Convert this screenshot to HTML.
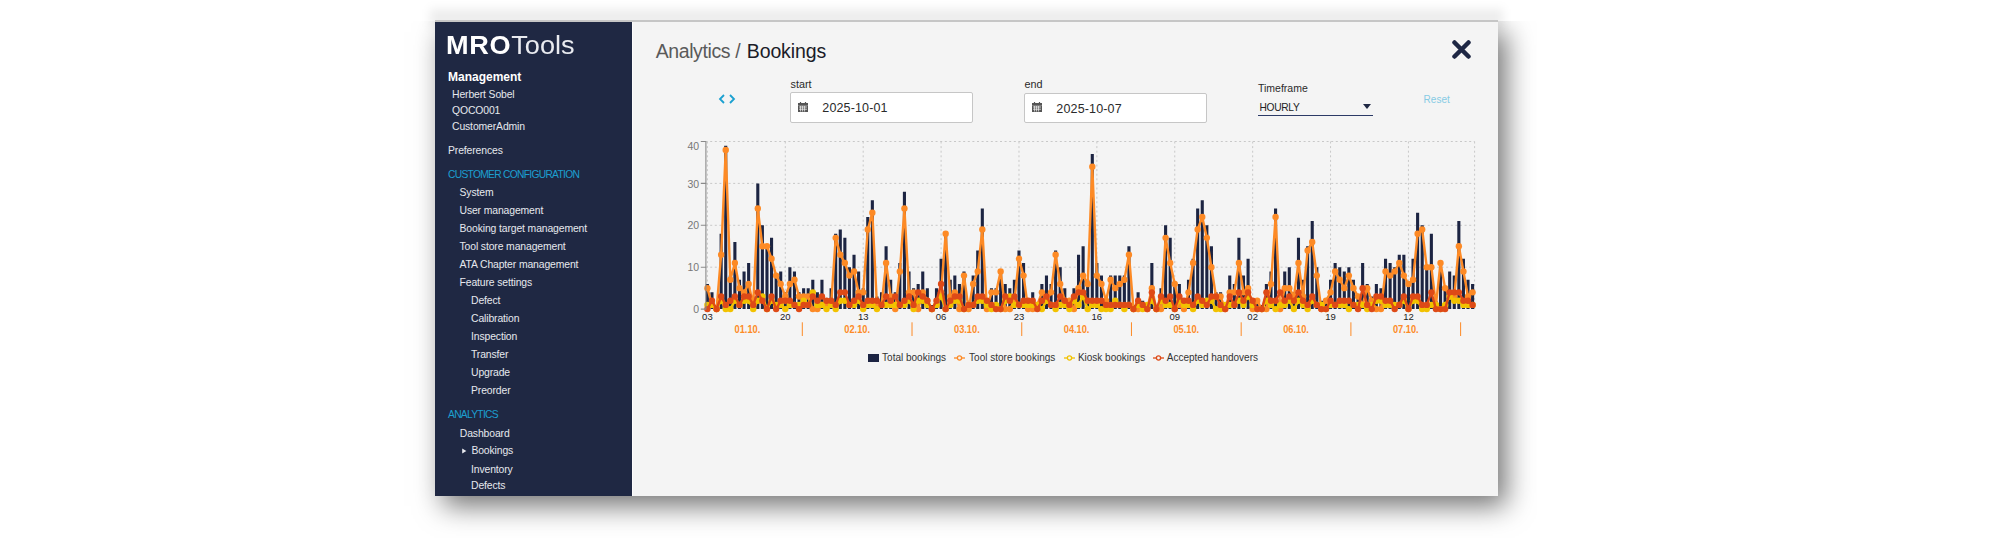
<!DOCTYPE html>
<html><head><meta charset="utf-8"><title>MROTools - Analytics / Bookings</title>
<style>
*{box-sizing:border-box;margin:0;padding:0}
html,body{width:2000px;height:538px;overflow:hidden;background:#fff;font-family:"Liberation Sans",sans-serif}
.topfade{position:absolute;left:430px;top:9px;width:1073px;height:18px;background:rgba(0,0,0,.072);filter:blur(5px)}
.shwrap{position:absolute;left:0;top:21px;width:1537px;height:517px;overflow:hidden}
.topline{position:absolute;left:435px;top:20.4px;width:1063px;height:1.2px;background:#c6c6c6}
.win{position:absolute;left:435px;top:1px;width:1063px;height:474px;background:#f4f4f4;box-shadow:8px 10px 26px rgba(0,0,0,.55)}
.side{position:absolute;left:0;top:0;width:197px;height:474px;background:#1f2843;color:#e6e8ee}
.side .t{position:absolute;white-space:nowrap;font-size:10.4px;line-height:14px;letter-spacing:-0.12px}
.logo{position:absolute;left:11.3px;top:11px;font-size:25px;line-height:25px;color:#fff;white-space:nowrap;transform:scaleX(1.085);transform-origin:0 0}
.logo b{font-weight:bold;letter-spacing:0.6px}
.logo span{font-weight:normal;letter-spacing:0px;color:#e9ebf0}
.side .h{font-weight:bold;font-size:12px;color:#fff;letter-spacing:0}
.side .c{color:#1c9fd0;font-size:10.3px;letter-spacing:-0.73px}
.main{position:absolute;left:198px;top:0;width:865px;height:474px;background:#f4f4f4}
.title{position:absolute;left:22.7px;top:16.6px;font-size:19.5px;line-height:24px;color:#5a5a5a;white-space:nowrap;letter-spacing:-0.4px}
.title b{font-weight:normal;color:#1b1c28;letter-spacing:-0.12px;margin-left:1.6px}
.close{position:absolute;left:819px;top:18px;width:19px;height:19px}
.lab{position:absolute;font-size:10.8px;line-height:14px;color:#2a2a2a;white-space:nowrap}
.inp{position:absolute;height:30.6px;background:#fff;border:1px solid #c6c6c6;border-radius:2px}
.inp .v{position:absolute;left:31.1px;top:8.2px;font-size:12.5px;line-height:15px;color:#2a2a2a;letter-spacing:0.15px}
.inp svg{position:absolute;left:6.5px;top:8.9px}
.sel{position:absolute;left:625px;top:76px;width:115px;height:18px;border-bottom:1.5px solid #2c3a66}
.sel .v{position:absolute;left:1.5px;top:3.7px;font-size:10.2px;line-height:12px;color:#222;letter-spacing:-0.3px}
.sel .car{position:absolute;left:105.2px;top:5.75px;width:0;height:0;border-left:4px solid transparent;border-right:4px solid transparent;border-top:5px solid #1f2843}
.reset{position:absolute;left:790.6px;top:71.4px;font-size:10px;line-height:14px;color:#86cbe4}
.arrows{position:absolute;left:85.4px;top:72px}
.chart{position:absolute;left:0;top:0}
.yl{font-size:10.5px;fill:#777;font-family:"Liberation Sans",sans-serif}
.xl{font-size:9.5px;fill:#222;font-family:"Liberation Sans",sans-serif}
.dl{font-size:10.3px;fill:#fd8a25;font-weight:bold;font-family:"Liberation Sans",sans-serif}
.legend{position:absolute;left:0;top:0;font-size:10px;line-height:12px;color:#333;white-space:nowrap}
.legend .it{position:absolute;white-space:nowrap}
</style></head>
<body>
<div class="topfade"></div>
<div class="shwrap"><div class="win">
 <div class="side">
  <div class="logo"><b>MRO</b><span>Tools</span></div>
  <div class="t h" style="left:13px;top:47.8px">Management</div>
  <div class="t" style="left:17px;top:65.9px">Herbert Sobel</div>
  <div class="t" style="left:17px;top:81.9px">QOCO001</div>
  <div class="t" style="left:17px;top:97.7px">CustomerAdmin</div>
  <div class="t" style="left:13px;top:122.3px">Preferences</div>
  <div class="t c" style="left:13px;top:146.0px">CUSTOMER CONFIGURATION</div>
  <div class="t" style="left:24.5px;top:163.8px">System</div>
  <div class="t" style="left:24.5px;top:181.8px">User management</div>
  <div class="t" style="left:24.5px;top:199.8px">Booking target management</div>
  <div class="t" style="left:24.5px;top:217.8px">Tool store management</div>
  <div class="t" style="left:24.5px;top:235.8px">ATA Chapter management</div>
  <div class="t" style="left:24.5px;top:253.8px">Feature settings</div>
  <div class="t" style="left:36px;top:272.0px">Defect</div>
  <div class="t" style="left:36px;top:290.2px">Calibration</div>
  <div class="t" style="left:36px;top:308.2px">Inspection</div>
  <div class="t" style="left:36px;top:326.0px">Transfer</div>
  <div class="t" style="left:36px;top:344.0px">Upgrade</div>
  <div class="t" style="left:36px;top:362.0px">Preorder</div>
  <div class="t c" style="left:13px;top:386.1px">ANALYTICS</div>
  <div class="t" style="left:24.8px;top:404.7px">Dashboard</div>
  <div class="t" style="left:36.4px;top:422.1px">Bookings</div>
  <svg class="tri" style="position:absolute;left:27.2px;top:426.3px" width="5" height="6" viewBox="0 0 5 6"><path d="M0.2 0.4L4.4 3L0.2 5.6z" fill="#e8e9ee"/></svg>
  <div class="t" style="left:36px;top:440.5px">Inventory</div>
  <div class="t" style="left:36px;top:456.8px">Defects</div>
 </div>
 <div style="position:absolute;left:197px;top:0;width:1px;height:474px;background:#fcfcfc"></div>
 <div class="main">
  <div class="title">Analytics / <b>Bookings</b></div>
  <svg class="close" viewBox="0 0 19 19"><path d="M2.5 2.5 L16.5 16.5 M16.5 2.5 L2.5 16.5" stroke="#1e2744" stroke-width="4.5" stroke-linecap="round"/></svg>
  <svg class="arrows" width="18" height="10" viewBox="0 0 18 10"><path d="M6 1 L2 5 L6 9 M12 1 L16 5 L12 9" stroke="#1aa0d0" stroke-width="1.8" fill="none"/></svg>
  <div class="lab" style="left:157.6px;top:55.2px">start</div>
  <div class="inp" style="left:157.2px;top:70px;width:183px"><svg width="10" height="10" viewBox="0 0 10 10"><path d="M2.5 0v2M7.5 0v2" stroke="#555" stroke-width="1.2"/><rect x="0" y="1" width="10" height="2.6" fill="#555"/><rect x="0" y="3.6" width="10" height="6.4" fill="#555"/><path d="M1 5h8M1 7.2h8M2.6 4v5.5M4.6 4v5.5M6.6 4v5.5" stroke="#fff" stroke-width="0.7"/></svg><span class="v">2025-10-01</span></div>
  <div class="lab" style="left:391.4px;top:55.2px">end</div>
  <div class="inp" style="left:391.25px;top:70.5px;width:182.75px"><svg width="10" height="10" viewBox="0 0 10 10"><path d="M2.5 0v2M7.5 0v2" stroke="#555" stroke-width="1.2"/><rect x="0" y="1" width="10" height="2.6" fill="#555"/><rect x="0" y="3.6" width="10" height="6.4" fill="#555"/><path d="M1 5h8M1 7.2h8M2.6 4v5.5M4.6 4v5.5M6.6 4v5.5" stroke="#fff" stroke-width="0.7"/></svg><span class="v">2025-10-07</span></div>
  <div class="lab" style="left:625px;top:59.1px;font-size:10.5px">Timeframe</div>
  <div class="sel"><span class="v">HOURLY</span><span class="car"></span></div>
  <div class="reset">Reset</div>
 </div>
</div></div>
<div class="topline"></div>
<svg class="chart" width="2000" height="538" viewBox="0 0 2000 538">
<path d="M705.6 267.2 H1474.6 M705.6 225.3 H1474.6 M705.6 183.4 H1474.6 M705.6 141.5 H1474.6 M707.4 141.5 V309.1 M785.29 141.5 V309.1 M863.19 141.5 V309.1 M941.08 141.5 V309.1 M1018.98 141.5 V309.1 M1096.87 141.5 V309.1 M1174.76 141.5 V309.1 M1252.66 141.5 V309.1 M1330.55 141.5 V309.1 M1408.45 141.5 V309.1 M1474.6 141.5 V309.1" stroke="#c8c8c8" stroke-width="1" stroke-dasharray="2 2.6" fill="none"/>
<path d="M705.85 283.96h3.1V309.1h-3.1zM710.43 292.34h3.1V309.1h-3.1zM715.01 304.91h3.1V309.1h-3.1zM719.6 233.68h3.1V309.1h-3.1zM724.18 145.69h3.1V309.1h-3.1zM728.76 275.58h3.1V309.1h-3.1zM733.34 242.06h3.1V309.1h-3.1zM737.92 279.77h3.1V309.1h-3.1zM742.51 271.39h3.1V309.1h-3.1zM747.09 263.01h3.1V309.1h-3.1zM751.67 296.53h3.1V309.1h-3.1zM756.25 183.4h3.1V309.1h-3.1zM760.83 225.3h3.1V309.1h-3.1zM765.42 246.25h3.1V309.1h-3.1zM770 237.87h3.1V309.1h-3.1zM774.58 275.58h3.1V309.1h-3.1zM779.16 271.39h3.1V309.1h-3.1zM783.74 292.34h3.1V309.1h-3.1zM788.33 267.2h3.1V309.1h-3.1zM792.91 271.39h3.1V309.1h-3.1zM797.49 292.34h3.1V309.1h-3.1zM802.07 288.15h3.1V309.1h-3.1zM806.65 288.15h3.1V309.1h-3.1zM811.24 279.77h3.1V309.1h-3.1zM815.82 292.34h3.1V309.1h-3.1zM820.4 279.77h3.1V309.1h-3.1zM824.98 300.72h3.1V309.1h-3.1zM829.56 288.15h3.1V309.1h-3.1zM834.15 233.68h3.1V309.1h-3.1zM838.73 229.49h3.1V309.1h-3.1zM843.31 237.87h3.1V309.1h-3.1zM847.89 267.2h3.1V309.1h-3.1zM852.47 254.63h3.1V309.1h-3.1zM857.06 271.39h3.1V309.1h-3.1zM861.64 288.15h3.1V309.1h-3.1zM866.22 216.92h3.1V309.1h-3.1zM870.8 200.16h3.1V309.1h-3.1zM875.38 296.53h3.1V309.1h-3.1zM879.97 292.34h3.1V309.1h-3.1zM884.55 246.25h3.1V309.1h-3.1zM889.13 279.77h3.1V309.1h-3.1zM893.71 292.34h3.1V309.1h-3.1zM898.29 263.01h3.1V309.1h-3.1zM902.88 191.78h3.1V309.1h-3.1zM907.46 271.39h3.1V309.1h-3.1zM912.04 288.15h3.1V309.1h-3.1zM916.62 283.96h3.1V309.1h-3.1zM921.2 271.39h3.1V309.1h-3.1zM925.79 288.15h3.1V309.1h-3.1zM930.37 304.91h3.1V309.1h-3.1zM934.95 288.15h3.1V309.1h-3.1zM939.53 258.82h3.1V309.1h-3.1zM944.11 233.68h3.1V309.1h-3.1zM948.7 279.77h3.1V309.1h-3.1zM953.28 275.58h3.1V309.1h-3.1zM957.86 283.96h3.1V309.1h-3.1zM962.44 271.39h3.1V309.1h-3.1zM967.02 300.72h3.1V309.1h-3.1zM971.61 275.58h3.1V309.1h-3.1zM976.19 250.44h3.1V309.1h-3.1zM980.77 208.54h3.1V309.1h-3.1zM985.35 300.72h3.1V309.1h-3.1zM989.93 288.15h3.1V309.1h-3.1zM994.52 288.15h3.1V309.1h-3.1zM999.1 271.39h3.1V309.1h-3.1zM1003.68 283.96h3.1V309.1h-3.1zM1008.26 288.15h3.1V309.1h-3.1zM1012.84 279.77h3.1V309.1h-3.1zM1017.43 250.44h3.1V309.1h-3.1zM1022.01 263.01h3.1V309.1h-3.1zM1026.59 300.72h3.1V309.1h-3.1zM1031.17 292.34h3.1V309.1h-3.1zM1035.75 304.91h3.1V309.1h-3.1zM1040.34 283.96h3.1V309.1h-3.1zM1044.92 275.58h3.1V309.1h-3.1zM1049.5 283.96h3.1V309.1h-3.1zM1054.08 250.44h3.1V309.1h-3.1zM1058.66 267.2h3.1V309.1h-3.1zM1063.25 288.15h3.1V309.1h-3.1zM1067.83 300.72h3.1V309.1h-3.1zM1072.41 288.15h3.1V309.1h-3.1zM1076.99 254.63h3.1V309.1h-3.1zM1081.57 246.25h3.1V309.1h-3.1zM1086.16 279.77h3.1V309.1h-3.1zM1090.74 154.07h3.1V309.1h-3.1zM1095.32 263.01h3.1V309.1h-3.1zM1099.9 275.58h3.1V309.1h-3.1zM1104.48 296.53h3.1V309.1h-3.1zM1109.07 275.58h3.1V309.1h-3.1zM1113.65 275.58h3.1V309.1h-3.1zM1118.23 275.58h3.1V309.1h-3.1zM1122.81 275.58h3.1V309.1h-3.1zM1127.39 246.25h3.1V309.1h-3.1zM1131.98 304.91h3.1V309.1h-3.1zM1136.56 292.34h3.1V309.1h-3.1zM1141.14 300.72h3.1V309.1h-3.1zM1145.72 304.91h3.1V309.1h-3.1zM1150.3 263.01h3.1V309.1h-3.1zM1154.89 304.91h3.1V309.1h-3.1zM1159.47 288.15h3.1V309.1h-3.1zM1164.05 225.3h3.1V309.1h-3.1zM1168.63 237.87h3.1V309.1h-3.1zM1173.21 283.96h3.1V309.1h-3.1zM1177.8 283.96h3.1V309.1h-3.1zM1182.38 300.72h3.1V309.1h-3.1zM1186.96 279.77h3.1V309.1h-3.1zM1191.54 258.82h3.1V309.1h-3.1zM1196.12 208.54h3.1V309.1h-3.1zM1200.71 200.16h3.1V309.1h-3.1zM1205.29 225.3h3.1V309.1h-3.1zM1209.87 246.25h3.1V309.1h-3.1zM1214.45 292.34h3.1V309.1h-3.1zM1219.03 292.34h3.1V309.1h-3.1zM1223.62 304.91h3.1V309.1h-3.1zM1228.2 275.58h3.1V309.1h-3.1zM1232.78 283.96h3.1V309.1h-3.1zM1237.36 237.87h3.1V309.1h-3.1zM1241.94 275.58h3.1V309.1h-3.1zM1246.53 258.82h3.1V309.1h-3.1zM1251.11 300.72h3.1V309.1h-3.1zM1255.69 300.72h3.1V309.1h-3.1zM1260.27 304.91h3.1V309.1h-3.1zM1264.85 283.96h3.1V309.1h-3.1zM1269.44 271.39h3.1V309.1h-3.1zM1274.02 208.54h3.1V309.1h-3.1zM1278.6 300.72h3.1V309.1h-3.1zM1283.18 271.39h3.1V309.1h-3.1zM1287.76 267.2h3.1V309.1h-3.1zM1292.35 292.34h3.1V309.1h-3.1zM1296.93 237.87h3.1V309.1h-3.1zM1301.51 279.77h3.1V309.1h-3.1zM1306.09 246.25h3.1V309.1h-3.1zM1310.67 221.11h3.1V309.1h-3.1zM1315.26 267.2h3.1V309.1h-3.1zM1319.84 300.72h3.1V309.1h-3.1zM1324.42 300.72h3.1V309.1h-3.1zM1329 279.77h3.1V309.1h-3.1zM1333.58 263.01h3.1V309.1h-3.1zM1338.17 267.2h3.1V309.1h-3.1zM1342.75 271.39h3.1V309.1h-3.1zM1347.33 267.2h3.1V309.1h-3.1zM1351.91 279.77h3.1V309.1h-3.1zM1356.49 296.53h3.1V309.1h-3.1zM1361.08 263.01h3.1V309.1h-3.1zM1365.66 283.96h3.1V309.1h-3.1zM1370.24 296.53h3.1V309.1h-3.1zM1374.82 283.96h3.1V309.1h-3.1zM1379.4 288.15h3.1V309.1h-3.1zM1383.99 258.82h3.1V309.1h-3.1zM1388.57 263.01h3.1V309.1h-3.1zM1393.15 267.2h3.1V309.1h-3.1zM1397.73 254.63h3.1V309.1h-3.1zM1402.31 254.63h3.1V309.1h-3.1zM1406.9 283.96h3.1V309.1h-3.1zM1411.48 258.82h3.1V309.1h-3.1zM1416.06 212.73h3.1V309.1h-3.1zM1420.64 225.3h3.1V309.1h-3.1zM1425.22 267.2h3.1V309.1h-3.1zM1429.81 233.68h3.1V309.1h-3.1zM1434.39 300.72h3.1V309.1h-3.1zM1438.97 263.01h3.1V309.1h-3.1zM1443.55 288.15h3.1V309.1h-3.1zM1448.13 271.39h3.1V309.1h-3.1zM1452.72 275.58h3.1V309.1h-3.1zM1457.3 221.11h3.1V309.1h-3.1zM1461.88 258.82h3.1V309.1h-3.1zM1466.46 279.77h3.1V309.1h-3.1zM1471.04 283.96h3.1V309.1h-3.1z" fill="#1c2442"/>
<polyline points="707.4,288.15 711.98,304.91 716.56,309.1 721.15,254.63 725.73,149.88 730.31,279.77 734.89,263.01 739.47,288.15 744.06,292.34 748.64,283.96 753.22,304.91 757.8,208.54 762.38,246.25 766.97,246.25 771.55,258.82 776.13,275.58 780.71,283.96 785.29,296.53 789.88,283.96 794.46,279.77 799.04,296.53 803.62,296.53 808.2,296.53 812.79,309.1 817.37,309.1 821.95,304.91 826.53,304.91 831.11,304.91 835.7,237.87 840.28,254.63 844.86,263.01 849.44,275.58 854.02,271.39 858.61,292.34 863.19,292.34 867.77,229.49 872.35,212.73 876.93,304.91 881.52,304.91 886.1,263.01 890.68,296.53 895.26,309.1 899.84,271.39 904.43,208.54 909.01,292.34 913.59,292.34 918.17,309.1 922.75,292.34 927.34,300.72 931.92,309.1 936.5,304.91 941.08,292.34 945.66,233.68 950.25,296.53 954.83,292.34 959.41,309.1 963.99,275.58 968.57,309.1 973.16,283.96 977.74,271.39 982.32,229.49 986.9,309.1 991.48,292.34 996.07,292.34 1000.65,271.39 1005.23,309.1 1009.81,309.1 1014.39,300.72 1018.98,258.82 1023.56,275.58 1028.14,309.1 1032.72,309.1 1037.3,304.91 1041.89,292.34 1046.47,300.72 1051.05,292.34 1055.63,254.63 1060.21,283.96 1064.8,300.72 1069.38,300.72 1073.96,309.1 1078.54,288.15 1083.12,275.58 1087.71,283.96 1092.29,166.64 1096.87,275.58 1101.45,283.96 1106.03,300.72 1110.62,279.77 1115.2,288.15 1119.78,283.96 1124.36,279.77 1128.94,254.63 1133.53,309.1 1138.11,309.1 1142.69,304.91 1147.27,309.1 1151.85,288.15 1156.44,309.1 1161.02,309.1 1165.6,237.87 1170.18,263.01 1174.76,283.96 1179.35,304.91 1183.93,309.1 1188.51,292.34 1193.09,263.01 1197.67,229.49 1202.26,216.92 1206.84,237.87 1211.42,267.2 1216,296.53 1220.58,296.53 1225.17,309.1 1229.75,292.34 1234.33,292.34 1238.91,263.01 1243.49,292.34 1248.08,288.15 1252.66,309.1 1257.24,300.72 1261.82,309.1 1266.4,309.1 1270.99,283.96 1275.57,216.92 1280.15,309.1 1284.73,288.15 1289.31,288.15 1293.9,296.53 1298.48,263.01 1303.06,296.53 1307.64,250.44 1312.22,242.06 1316.81,275.58 1321.39,309.1 1325.97,300.72 1330.55,292.34 1335.13,271.39 1339.72,279.77 1344.3,288.15 1348.88,275.58 1353.46,288.15 1358.04,296.53 1362.63,304.91 1367.21,288.15 1371.79,300.72 1376.37,309.1 1380.95,309.1 1385.54,271.39 1390.12,275.58 1394.7,271.39 1399.28,263.01 1403.86,275.58 1408.45,283.96 1413.03,279.77 1417.61,233.68 1422.19,229.49 1426.77,267.2 1431.36,267.2 1435.94,304.91 1440.52,263.01 1445.1,288.15 1449.68,296.53 1454.27,296.53 1458.85,246.25 1463.43,271.39 1468.01,296.53 1472.59,292.34" fill="none" stroke="#fd8a25" stroke-width="2.4" stroke-linejoin="round"/>
<g fill="#fd8a25"><circle cx="707.4" cy="288.15" r="3.2"/><circle cx="711.98" cy="304.91" r="3.2"/><circle cx="716.56" cy="309.1" r="3.2"/><circle cx="721.15" cy="254.63" r="3.2"/><circle cx="725.73" cy="149.88" r="3.2"/><circle cx="730.31" cy="279.77" r="3.2"/><circle cx="734.89" cy="263.01" r="3.2"/><circle cx="739.47" cy="288.15" r="3.2"/><circle cx="744.06" cy="292.34" r="3.2"/><circle cx="748.64" cy="283.96" r="3.2"/><circle cx="753.22" cy="304.91" r="3.2"/><circle cx="757.8" cy="208.54" r="3.2"/><circle cx="762.38" cy="246.25" r="3.2"/><circle cx="766.97" cy="246.25" r="3.2"/><circle cx="771.55" cy="258.82" r="3.2"/><circle cx="776.13" cy="275.58" r="3.2"/><circle cx="780.71" cy="283.96" r="3.2"/><circle cx="785.29" cy="296.53" r="3.2"/><circle cx="789.88" cy="283.96" r="3.2"/><circle cx="794.46" cy="279.77" r="3.2"/><circle cx="799.04" cy="296.53" r="3.2"/><circle cx="803.62" cy="296.53" r="3.2"/><circle cx="808.2" cy="296.53" r="3.2"/><circle cx="812.79" cy="309.1" r="3.2"/><circle cx="817.37" cy="309.1" r="3.2"/><circle cx="821.95" cy="304.91" r="3.2"/><circle cx="826.53" cy="304.91" r="3.2"/><circle cx="831.11" cy="304.91" r="3.2"/><circle cx="835.7" cy="237.87" r="3.2"/><circle cx="840.28" cy="254.63" r="3.2"/><circle cx="844.86" cy="263.01" r="3.2"/><circle cx="849.44" cy="275.58" r="3.2"/><circle cx="854.02" cy="271.39" r="3.2"/><circle cx="858.61" cy="292.34" r="3.2"/><circle cx="863.19" cy="292.34" r="3.2"/><circle cx="867.77" cy="229.49" r="3.2"/><circle cx="872.35" cy="212.73" r="3.2"/><circle cx="876.93" cy="304.91" r="3.2"/><circle cx="881.52" cy="304.91" r="3.2"/><circle cx="886.1" cy="263.01" r="3.2"/><circle cx="890.68" cy="296.53" r="3.2"/><circle cx="895.26" cy="309.1" r="3.2"/><circle cx="899.84" cy="271.39" r="3.2"/><circle cx="904.43" cy="208.54" r="3.2"/><circle cx="909.01" cy="292.34" r="3.2"/><circle cx="913.59" cy="292.34" r="3.2"/><circle cx="918.17" cy="309.1" r="3.2"/><circle cx="922.75" cy="292.34" r="3.2"/><circle cx="927.34" cy="300.72" r="3.2"/><circle cx="931.92" cy="309.1" r="3.2"/><circle cx="936.5" cy="304.91" r="3.2"/><circle cx="941.08" cy="292.34" r="3.2"/><circle cx="945.66" cy="233.68" r="3.2"/><circle cx="950.25" cy="296.53" r="3.2"/><circle cx="954.83" cy="292.34" r="3.2"/><circle cx="959.41" cy="309.1" r="3.2"/><circle cx="963.99" cy="275.58" r="3.2"/><circle cx="968.57" cy="309.1" r="3.2"/><circle cx="973.16" cy="283.96" r="3.2"/><circle cx="977.74" cy="271.39" r="3.2"/><circle cx="982.32" cy="229.49" r="3.2"/><circle cx="986.9" cy="309.1" r="3.2"/><circle cx="991.48" cy="292.34" r="3.2"/><circle cx="996.07" cy="292.34" r="3.2"/><circle cx="1000.65" cy="271.39" r="3.2"/><circle cx="1005.23" cy="309.1" r="3.2"/><circle cx="1009.81" cy="309.1" r="3.2"/><circle cx="1014.39" cy="300.72" r="3.2"/><circle cx="1018.98" cy="258.82" r="3.2"/><circle cx="1023.56" cy="275.58" r="3.2"/><circle cx="1028.14" cy="309.1" r="3.2"/><circle cx="1032.72" cy="309.1" r="3.2"/><circle cx="1037.3" cy="304.91" r="3.2"/><circle cx="1041.89" cy="292.34" r="3.2"/><circle cx="1046.47" cy="300.72" r="3.2"/><circle cx="1051.05" cy="292.34" r="3.2"/><circle cx="1055.63" cy="254.63" r="3.2"/><circle cx="1060.21" cy="283.96" r="3.2"/><circle cx="1064.8" cy="300.72" r="3.2"/><circle cx="1069.38" cy="300.72" r="3.2"/><circle cx="1073.96" cy="309.1" r="3.2"/><circle cx="1078.54" cy="288.15" r="3.2"/><circle cx="1083.12" cy="275.58" r="3.2"/><circle cx="1087.71" cy="283.96" r="3.2"/><circle cx="1092.29" cy="166.64" r="3.2"/><circle cx="1096.87" cy="275.58" r="3.2"/><circle cx="1101.45" cy="283.96" r="3.2"/><circle cx="1106.03" cy="300.72" r="3.2"/><circle cx="1110.62" cy="279.77" r="3.2"/><circle cx="1115.2" cy="288.15" r="3.2"/><circle cx="1119.78" cy="283.96" r="3.2"/><circle cx="1124.36" cy="279.77" r="3.2"/><circle cx="1128.94" cy="254.63" r="3.2"/><circle cx="1133.53" cy="309.1" r="3.2"/><circle cx="1138.11" cy="309.1" r="3.2"/><circle cx="1142.69" cy="304.91" r="3.2"/><circle cx="1147.27" cy="309.1" r="3.2"/><circle cx="1151.85" cy="288.15" r="3.2"/><circle cx="1156.44" cy="309.1" r="3.2"/><circle cx="1161.02" cy="309.1" r="3.2"/><circle cx="1165.6" cy="237.87" r="3.2"/><circle cx="1170.18" cy="263.01" r="3.2"/><circle cx="1174.76" cy="283.96" r="3.2"/><circle cx="1179.35" cy="304.91" r="3.2"/><circle cx="1183.93" cy="309.1" r="3.2"/><circle cx="1188.51" cy="292.34" r="3.2"/><circle cx="1193.09" cy="263.01" r="3.2"/><circle cx="1197.67" cy="229.49" r="3.2"/><circle cx="1202.26" cy="216.92" r="3.2"/><circle cx="1206.84" cy="237.87" r="3.2"/><circle cx="1211.42" cy="267.2" r="3.2"/><circle cx="1216" cy="296.53" r="3.2"/><circle cx="1220.58" cy="296.53" r="3.2"/><circle cx="1225.17" cy="309.1" r="3.2"/><circle cx="1229.75" cy="292.34" r="3.2"/><circle cx="1234.33" cy="292.34" r="3.2"/><circle cx="1238.91" cy="263.01" r="3.2"/><circle cx="1243.49" cy="292.34" r="3.2"/><circle cx="1248.08" cy="288.15" r="3.2"/><circle cx="1252.66" cy="309.1" r="3.2"/><circle cx="1257.24" cy="300.72" r="3.2"/><circle cx="1261.82" cy="309.1" r="3.2"/><circle cx="1266.4" cy="309.1" r="3.2"/><circle cx="1270.99" cy="283.96" r="3.2"/><circle cx="1275.57" cy="216.92" r="3.2"/><circle cx="1280.15" cy="309.1" r="3.2"/><circle cx="1284.73" cy="288.15" r="3.2"/><circle cx="1289.31" cy="288.15" r="3.2"/><circle cx="1293.9" cy="296.53" r="3.2"/><circle cx="1298.48" cy="263.01" r="3.2"/><circle cx="1303.06" cy="296.53" r="3.2"/><circle cx="1307.64" cy="250.44" r="3.2"/><circle cx="1312.22" cy="242.06" r="3.2"/><circle cx="1316.81" cy="275.58" r="3.2"/><circle cx="1321.39" cy="309.1" r="3.2"/><circle cx="1325.97" cy="300.72" r="3.2"/><circle cx="1330.55" cy="292.34" r="3.2"/><circle cx="1335.13" cy="271.39" r="3.2"/><circle cx="1339.72" cy="279.77" r="3.2"/><circle cx="1344.3" cy="288.15" r="3.2"/><circle cx="1348.88" cy="275.58" r="3.2"/><circle cx="1353.46" cy="288.15" r="3.2"/><circle cx="1358.04" cy="296.53" r="3.2"/><circle cx="1362.63" cy="304.91" r="3.2"/><circle cx="1367.21" cy="288.15" r="3.2"/><circle cx="1371.79" cy="300.72" r="3.2"/><circle cx="1376.37" cy="309.1" r="3.2"/><circle cx="1380.95" cy="309.1" r="3.2"/><circle cx="1385.54" cy="271.39" r="3.2"/><circle cx="1390.12" cy="275.58" r="3.2"/><circle cx="1394.7" cy="271.39" r="3.2"/><circle cx="1399.28" cy="263.01" r="3.2"/><circle cx="1403.86" cy="275.58" r="3.2"/><circle cx="1408.45" cy="283.96" r="3.2"/><circle cx="1413.03" cy="279.77" r="3.2"/><circle cx="1417.61" cy="233.68" r="3.2"/><circle cx="1422.19" cy="229.49" r="3.2"/><circle cx="1426.77" cy="267.2" r="3.2"/><circle cx="1431.36" cy="267.2" r="3.2"/><circle cx="1435.94" cy="304.91" r="3.2"/><circle cx="1440.52" cy="263.01" r="3.2"/><circle cx="1445.1" cy="288.15" r="3.2"/><circle cx="1449.68" cy="296.53" r="3.2"/><circle cx="1454.27" cy="296.53" r="3.2"/><circle cx="1458.85" cy="246.25" r="3.2"/><circle cx="1463.43" cy="271.39" r="3.2"/><circle cx="1468.01" cy="296.53" r="3.2"/><circle cx="1472.59" cy="292.34" r="3.2"/></g>
<polyline points="707.4,304.91 711.98,304.91 716.56,309.1 721.15,300.72 725.73,309.1 730.31,309.1 734.89,300.72 739.47,304.91 744.06,300.72 748.64,300.72 753.22,309.1 757.8,300.72 762.38,296.53 766.97,309.1 771.55,300.72 776.13,304.91 780.71,304.91 785.29,309.1 789.88,304.91 794.46,304.91 799.04,304.91 803.62,300.72 808.2,304.91 812.79,292.34 817.37,304.91 821.95,304.91 826.53,309.1 831.11,304.91 835.7,309.1 840.28,300.72 844.86,300.72 849.44,304.91 854.02,304.91 858.61,300.72 863.19,309.1 867.77,304.91 872.35,304.91 876.93,309.1 881.52,304.91 886.1,304.91 890.68,304.91 895.26,304.91 899.84,304.91 904.43,304.91 909.01,300.72 913.59,309.1 918.17,300.72 922.75,300.72 927.34,304.91 931.92,309.1 936.5,304.91 941.08,296.53 945.66,309.1 950.25,304.91 954.83,300.72 959.41,300.72 963.99,309.1 968.57,304.91 973.16,304.91 977.74,300.72 982.32,300.72 986.9,304.91 991.48,309.1 996.07,304.91 1000.65,309.1 1005.23,300.72 1009.81,296.53 1014.39,304.91 1018.98,304.91 1023.56,304.91 1028.14,304.91 1032.72,304.91 1037.3,304.91 1041.89,309.1 1046.47,300.72 1051.05,304.91 1055.63,309.1 1060.21,304.91 1064.8,304.91 1069.38,309.1 1073.96,300.72 1078.54,304.91 1083.12,296.53 1087.71,309.1 1092.29,304.91 1096.87,304.91 1101.45,309.1 1106.03,309.1 1110.62,309.1 1115.2,300.72 1119.78,304.91 1124.36,309.1 1128.94,304.91 1133.53,309.1 1138.11,304.91 1142.69,309.1 1147.27,304.91 1151.85,300.72 1156.44,309.1 1161.02,300.72 1165.6,304.91 1170.18,304.91 1174.76,309.1 1179.35,300.72 1183.93,304.91 1188.51,304.91 1193.09,309.1 1197.67,300.72 1202.26,304.91 1206.84,300.72 1211.42,300.72 1216,309.1 1220.58,309.1 1225.17,304.91 1229.75,304.91 1234.33,304.91 1238.91,300.72 1243.49,304.91 1248.08,296.53 1252.66,304.91 1257.24,309.1 1261.82,309.1 1266.4,300.72 1270.99,304.91 1275.57,309.1 1280.15,304.91 1284.73,304.91 1289.31,300.72 1293.9,309.1 1298.48,300.72 1303.06,304.91 1307.64,309.1 1312.22,300.72 1316.81,304.91 1321.39,304.91 1325.97,309.1 1330.55,304.91 1335.13,304.91 1339.72,304.91 1344.3,304.91 1348.88,309.1 1353.46,304.91 1358.04,304.91 1362.63,304.91 1367.21,309.1 1371.79,304.91 1376.37,300.72 1380.95,300.72 1385.54,304.91 1390.12,304.91 1394.7,304.91 1399.28,304.91 1403.86,300.72 1408.45,309.1 1413.03,300.72 1417.61,300.72 1422.19,309.1 1426.77,309.1 1431.36,304.91 1435.94,304.91 1440.52,309.1 1445.1,304.91 1449.68,296.53 1454.27,300.72 1458.85,300.72 1463.43,304.91 1468.01,304.91 1472.59,304.91" fill="none" stroke="#f2c200" stroke-width="2.4" stroke-linejoin="round"/>
<g fill="#f2c200"><circle cx="707.4" cy="304.91" r="3.2"/><circle cx="711.98" cy="304.91" r="3.2"/><circle cx="716.56" cy="309.1" r="3.2"/><circle cx="721.15" cy="300.72" r="3.2"/><circle cx="725.73" cy="309.1" r="3.2"/><circle cx="730.31" cy="309.1" r="3.2"/><circle cx="734.89" cy="300.72" r="3.2"/><circle cx="739.47" cy="304.91" r="3.2"/><circle cx="744.06" cy="300.72" r="3.2"/><circle cx="748.64" cy="300.72" r="3.2"/><circle cx="753.22" cy="309.1" r="3.2"/><circle cx="757.8" cy="300.72" r="3.2"/><circle cx="762.38" cy="296.53" r="3.2"/><circle cx="766.97" cy="309.1" r="3.2"/><circle cx="771.55" cy="300.72" r="3.2"/><circle cx="776.13" cy="304.91" r="3.2"/><circle cx="780.71" cy="304.91" r="3.2"/><circle cx="785.29" cy="309.1" r="3.2"/><circle cx="789.88" cy="304.91" r="3.2"/><circle cx="794.46" cy="304.91" r="3.2"/><circle cx="799.04" cy="304.91" r="3.2"/><circle cx="803.62" cy="300.72" r="3.2"/><circle cx="808.2" cy="304.91" r="3.2"/><circle cx="812.79" cy="292.34" r="3.2"/><circle cx="817.37" cy="304.91" r="3.2"/><circle cx="821.95" cy="304.91" r="3.2"/><circle cx="826.53" cy="309.1" r="3.2"/><circle cx="831.11" cy="304.91" r="3.2"/><circle cx="835.7" cy="309.1" r="3.2"/><circle cx="840.28" cy="300.72" r="3.2"/><circle cx="844.86" cy="300.72" r="3.2"/><circle cx="849.44" cy="304.91" r="3.2"/><circle cx="854.02" cy="304.91" r="3.2"/><circle cx="858.61" cy="300.72" r="3.2"/><circle cx="863.19" cy="309.1" r="3.2"/><circle cx="867.77" cy="304.91" r="3.2"/><circle cx="872.35" cy="304.91" r="3.2"/><circle cx="876.93" cy="309.1" r="3.2"/><circle cx="881.52" cy="304.91" r="3.2"/><circle cx="886.1" cy="304.91" r="3.2"/><circle cx="890.68" cy="304.91" r="3.2"/><circle cx="895.26" cy="304.91" r="3.2"/><circle cx="899.84" cy="304.91" r="3.2"/><circle cx="904.43" cy="304.91" r="3.2"/><circle cx="909.01" cy="300.72" r="3.2"/><circle cx="913.59" cy="309.1" r="3.2"/><circle cx="918.17" cy="300.72" r="3.2"/><circle cx="922.75" cy="300.72" r="3.2"/><circle cx="927.34" cy="304.91" r="3.2"/><circle cx="931.92" cy="309.1" r="3.2"/><circle cx="936.5" cy="304.91" r="3.2"/><circle cx="941.08" cy="296.53" r="3.2"/><circle cx="945.66" cy="309.1" r="3.2"/><circle cx="950.25" cy="304.91" r="3.2"/><circle cx="954.83" cy="300.72" r="3.2"/><circle cx="959.41" cy="300.72" r="3.2"/><circle cx="963.99" cy="309.1" r="3.2"/><circle cx="968.57" cy="304.91" r="3.2"/><circle cx="973.16" cy="304.91" r="3.2"/><circle cx="977.74" cy="300.72" r="3.2"/><circle cx="982.32" cy="300.72" r="3.2"/><circle cx="986.9" cy="304.91" r="3.2"/><circle cx="991.48" cy="309.1" r="3.2"/><circle cx="996.07" cy="304.91" r="3.2"/><circle cx="1000.65" cy="309.1" r="3.2"/><circle cx="1005.23" cy="300.72" r="3.2"/><circle cx="1009.81" cy="296.53" r="3.2"/><circle cx="1014.39" cy="304.91" r="3.2"/><circle cx="1018.98" cy="304.91" r="3.2"/><circle cx="1023.56" cy="304.91" r="3.2"/><circle cx="1028.14" cy="304.91" r="3.2"/><circle cx="1032.72" cy="304.91" r="3.2"/><circle cx="1037.3" cy="304.91" r="3.2"/><circle cx="1041.89" cy="309.1" r="3.2"/><circle cx="1046.47" cy="300.72" r="3.2"/><circle cx="1051.05" cy="304.91" r="3.2"/><circle cx="1055.63" cy="309.1" r="3.2"/><circle cx="1060.21" cy="304.91" r="3.2"/><circle cx="1064.8" cy="304.91" r="3.2"/><circle cx="1069.38" cy="309.1" r="3.2"/><circle cx="1073.96" cy="300.72" r="3.2"/><circle cx="1078.54" cy="304.91" r="3.2"/><circle cx="1083.12" cy="296.53" r="3.2"/><circle cx="1087.71" cy="309.1" r="3.2"/><circle cx="1092.29" cy="304.91" r="3.2"/><circle cx="1096.87" cy="304.91" r="3.2"/><circle cx="1101.45" cy="309.1" r="3.2"/><circle cx="1106.03" cy="309.1" r="3.2"/><circle cx="1110.62" cy="309.1" r="3.2"/><circle cx="1115.2" cy="300.72" r="3.2"/><circle cx="1119.78" cy="304.91" r="3.2"/><circle cx="1124.36" cy="309.1" r="3.2"/><circle cx="1128.94" cy="304.91" r="3.2"/><circle cx="1133.53" cy="309.1" r="3.2"/><circle cx="1138.11" cy="304.91" r="3.2"/><circle cx="1142.69" cy="309.1" r="3.2"/><circle cx="1147.27" cy="304.91" r="3.2"/><circle cx="1151.85" cy="300.72" r="3.2"/><circle cx="1156.44" cy="309.1" r="3.2"/><circle cx="1161.02" cy="300.72" r="3.2"/><circle cx="1165.6" cy="304.91" r="3.2"/><circle cx="1170.18" cy="304.91" r="3.2"/><circle cx="1174.76" cy="309.1" r="3.2"/><circle cx="1179.35" cy="300.72" r="3.2"/><circle cx="1183.93" cy="304.91" r="3.2"/><circle cx="1188.51" cy="304.91" r="3.2"/><circle cx="1193.09" cy="309.1" r="3.2"/><circle cx="1197.67" cy="300.72" r="3.2"/><circle cx="1202.26" cy="304.91" r="3.2"/><circle cx="1206.84" cy="300.72" r="3.2"/><circle cx="1211.42" cy="300.72" r="3.2"/><circle cx="1216" cy="309.1" r="3.2"/><circle cx="1220.58" cy="309.1" r="3.2"/><circle cx="1225.17" cy="304.91" r="3.2"/><circle cx="1229.75" cy="304.91" r="3.2"/><circle cx="1234.33" cy="304.91" r="3.2"/><circle cx="1238.91" cy="300.72" r="3.2"/><circle cx="1243.49" cy="304.91" r="3.2"/><circle cx="1248.08" cy="296.53" r="3.2"/><circle cx="1252.66" cy="304.91" r="3.2"/><circle cx="1257.24" cy="309.1" r="3.2"/><circle cx="1261.82" cy="309.1" r="3.2"/><circle cx="1266.4" cy="300.72" r="3.2"/><circle cx="1270.99" cy="304.91" r="3.2"/><circle cx="1275.57" cy="309.1" r="3.2"/><circle cx="1280.15" cy="304.91" r="3.2"/><circle cx="1284.73" cy="304.91" r="3.2"/><circle cx="1289.31" cy="300.72" r="3.2"/><circle cx="1293.9" cy="309.1" r="3.2"/><circle cx="1298.48" cy="300.72" r="3.2"/><circle cx="1303.06" cy="304.91" r="3.2"/><circle cx="1307.64" cy="309.1" r="3.2"/><circle cx="1312.22" cy="300.72" r="3.2"/><circle cx="1316.81" cy="304.91" r="3.2"/><circle cx="1321.39" cy="304.91" r="3.2"/><circle cx="1325.97" cy="309.1" r="3.2"/><circle cx="1330.55" cy="304.91" r="3.2"/><circle cx="1335.13" cy="304.91" r="3.2"/><circle cx="1339.72" cy="304.91" r="3.2"/><circle cx="1344.3" cy="304.91" r="3.2"/><circle cx="1348.88" cy="309.1" r="3.2"/><circle cx="1353.46" cy="304.91" r="3.2"/><circle cx="1358.04" cy="304.91" r="3.2"/><circle cx="1362.63" cy="304.91" r="3.2"/><circle cx="1367.21" cy="309.1" r="3.2"/><circle cx="1371.79" cy="304.91" r="3.2"/><circle cx="1376.37" cy="300.72" r="3.2"/><circle cx="1380.95" cy="300.72" r="3.2"/><circle cx="1385.54" cy="304.91" r="3.2"/><circle cx="1390.12" cy="304.91" r="3.2"/><circle cx="1394.7" cy="304.91" r="3.2"/><circle cx="1399.28" cy="304.91" r="3.2"/><circle cx="1403.86" cy="300.72" r="3.2"/><circle cx="1408.45" cy="309.1" r="3.2"/><circle cx="1413.03" cy="300.72" r="3.2"/><circle cx="1417.61" cy="300.72" r="3.2"/><circle cx="1422.19" cy="309.1" r="3.2"/><circle cx="1426.77" cy="309.1" r="3.2"/><circle cx="1431.36" cy="304.91" r="3.2"/><circle cx="1435.94" cy="304.91" r="3.2"/><circle cx="1440.52" cy="309.1" r="3.2"/><circle cx="1445.1" cy="304.91" r="3.2"/><circle cx="1449.68" cy="296.53" r="3.2"/><circle cx="1454.27" cy="300.72" r="3.2"/><circle cx="1458.85" cy="300.72" r="3.2"/><circle cx="1463.43" cy="304.91" r="3.2"/><circle cx="1468.01" cy="304.91" r="3.2"/><circle cx="1472.59" cy="304.91" r="3.2"/></g>
<polyline points="707.4,309.1 711.98,300.72 716.56,309.1 721.15,296.53 725.73,304.91 730.31,300.72 734.89,296.53 739.47,304.91 744.06,296.53 748.64,296.53 753.22,304.91 757.8,292.34 762.38,300.72 766.97,309.1 771.55,296.53 776.13,309.1 780.71,300.72 785.29,300.72 789.88,300.72 794.46,304.91 799.04,309.1 803.62,304.91 808.2,304.91 812.79,296.53 817.37,300.72 821.95,296.53 826.53,300.72 831.11,300.72 835.7,304.91 840.28,292.34 844.86,292.34 849.44,304.91 854.02,300.72 858.61,296.53 863.19,304.91 867.77,300.72 872.35,300.72 876.93,300.72 881.52,304.91 886.1,296.53 890.68,300.72 895.26,296.53 899.84,304.91 904.43,300.72 909.01,296.53 913.59,304.91 918.17,292.34 922.75,296.53 927.34,300.72 931.92,309.1 936.5,300.72 941.08,283.96 945.66,309.1 950.25,300.72 954.83,296.53 959.41,296.53 963.99,309.1 968.57,304.91 973.16,304.91 977.74,296.53 982.32,296.53 986.9,300.72 991.48,304.91 996.07,309.1 1000.65,309.1 1005.23,296.53 1009.81,300.72 1014.39,296.53 1018.98,304.91 1023.56,300.72 1028.14,300.72 1032.72,300.72 1037.3,309.1 1041.89,300.72 1046.47,296.53 1051.05,304.91 1055.63,304.91 1060.21,296.53 1064.8,300.72 1069.38,304.91 1073.96,296.53 1078.54,292.34 1083.12,292.34 1087.71,300.72 1092.29,300.72 1096.87,300.72 1101.45,300.72 1106.03,304.91 1110.62,304.91 1115.2,304.91 1119.78,304.91 1124.36,304.91 1128.94,304.91 1133.53,309.1 1138.11,300.72 1142.69,304.91 1147.27,309.1 1151.85,292.34 1156.44,309.1 1161.02,296.53 1165.6,300.72 1170.18,296.53 1174.76,309.1 1179.35,296.53 1183.93,300.72 1188.51,300.72 1193.09,304.91 1197.67,296.53 1202.26,300.72 1206.84,304.91 1211.42,296.53 1216,296.53 1220.58,304.91 1225.17,309.1 1229.75,296.53 1234.33,304.91 1238.91,292.34 1243.49,300.72 1248.08,292.34 1252.66,300.72 1257.24,309.1 1261.82,309.1 1266.4,292.34 1270.99,300.72 1275.57,300.72 1280.15,292.34 1284.73,300.72 1289.31,296.53 1293.9,300.72 1298.48,292.34 1303.06,300.72 1307.64,304.91 1312.22,296.53 1316.81,304.91 1321.39,309.1 1325.97,309.1 1330.55,300.72 1335.13,304.91 1339.72,300.72 1344.3,300.72 1348.88,300.72 1353.46,304.91 1358.04,309.1 1362.63,288.15 1367.21,304.91 1371.79,309.1 1376.37,296.53 1380.95,296.53 1385.54,300.72 1390.12,300.72 1394.7,309.1 1399.28,304.91 1403.86,296.53 1408.45,309.1 1413.03,296.53 1417.61,296.53 1422.19,304.91 1426.77,304.91 1431.36,292.34 1435.94,309.1 1440.52,309.1 1445.1,309.1 1449.68,292.34 1454.27,292.34 1458.85,292.34 1463.43,300.72 1468.01,300.72 1472.59,304.91" fill="none" stroke="#de4a17" stroke-width="2.4" stroke-linejoin="round"/>
<g fill="#de4a17"><circle cx="707.4" cy="309.1" r="3.2"/><circle cx="711.98" cy="300.72" r="3.2"/><circle cx="716.56" cy="309.1" r="3.2"/><circle cx="721.15" cy="296.53" r="3.2"/><circle cx="725.73" cy="304.91" r="3.2"/><circle cx="730.31" cy="300.72" r="3.2"/><circle cx="734.89" cy="296.53" r="3.2"/><circle cx="739.47" cy="304.91" r="3.2"/><circle cx="744.06" cy="296.53" r="3.2"/><circle cx="748.64" cy="296.53" r="3.2"/><circle cx="753.22" cy="304.91" r="3.2"/><circle cx="757.8" cy="292.34" r="3.2"/><circle cx="762.38" cy="300.72" r="3.2"/><circle cx="766.97" cy="309.1" r="3.2"/><circle cx="771.55" cy="296.53" r="3.2"/><circle cx="776.13" cy="309.1" r="3.2"/><circle cx="780.71" cy="300.72" r="3.2"/><circle cx="785.29" cy="300.72" r="3.2"/><circle cx="789.88" cy="300.72" r="3.2"/><circle cx="794.46" cy="304.91" r="3.2"/><circle cx="799.04" cy="309.1" r="3.2"/><circle cx="803.62" cy="304.91" r="3.2"/><circle cx="808.2" cy="304.91" r="3.2"/><circle cx="812.79" cy="296.53" r="3.2"/><circle cx="817.37" cy="300.72" r="3.2"/><circle cx="821.95" cy="296.53" r="3.2"/><circle cx="826.53" cy="300.72" r="3.2"/><circle cx="831.11" cy="300.72" r="3.2"/><circle cx="835.7" cy="304.91" r="3.2"/><circle cx="840.28" cy="292.34" r="3.2"/><circle cx="844.86" cy="292.34" r="3.2"/><circle cx="849.44" cy="304.91" r="3.2"/><circle cx="854.02" cy="300.72" r="3.2"/><circle cx="858.61" cy="296.53" r="3.2"/><circle cx="863.19" cy="304.91" r="3.2"/><circle cx="867.77" cy="300.72" r="3.2"/><circle cx="872.35" cy="300.72" r="3.2"/><circle cx="876.93" cy="300.72" r="3.2"/><circle cx="881.52" cy="304.91" r="3.2"/><circle cx="886.1" cy="296.53" r="3.2"/><circle cx="890.68" cy="300.72" r="3.2"/><circle cx="895.26" cy="296.53" r="3.2"/><circle cx="899.84" cy="304.91" r="3.2"/><circle cx="904.43" cy="300.72" r="3.2"/><circle cx="909.01" cy="296.53" r="3.2"/><circle cx="913.59" cy="304.91" r="3.2"/><circle cx="918.17" cy="292.34" r="3.2"/><circle cx="922.75" cy="296.53" r="3.2"/><circle cx="927.34" cy="300.72" r="3.2"/><circle cx="931.92" cy="309.1" r="3.2"/><circle cx="936.5" cy="300.72" r="3.2"/><circle cx="941.08" cy="283.96" r="3.2"/><circle cx="945.66" cy="309.1" r="3.2"/><circle cx="950.25" cy="300.72" r="3.2"/><circle cx="954.83" cy="296.53" r="3.2"/><circle cx="959.41" cy="296.53" r="3.2"/><circle cx="963.99" cy="309.1" r="3.2"/><circle cx="968.57" cy="304.91" r="3.2"/><circle cx="973.16" cy="304.91" r="3.2"/><circle cx="977.74" cy="296.53" r="3.2"/><circle cx="982.32" cy="296.53" r="3.2"/><circle cx="986.9" cy="300.72" r="3.2"/><circle cx="991.48" cy="304.91" r="3.2"/><circle cx="996.07" cy="309.1" r="3.2"/><circle cx="1000.65" cy="309.1" r="3.2"/><circle cx="1005.23" cy="296.53" r="3.2"/><circle cx="1009.81" cy="300.72" r="3.2"/><circle cx="1014.39" cy="296.53" r="3.2"/><circle cx="1018.98" cy="304.91" r="3.2"/><circle cx="1023.56" cy="300.72" r="3.2"/><circle cx="1028.14" cy="300.72" r="3.2"/><circle cx="1032.72" cy="300.72" r="3.2"/><circle cx="1037.3" cy="309.1" r="3.2"/><circle cx="1041.89" cy="300.72" r="3.2"/><circle cx="1046.47" cy="296.53" r="3.2"/><circle cx="1051.05" cy="304.91" r="3.2"/><circle cx="1055.63" cy="304.91" r="3.2"/><circle cx="1060.21" cy="296.53" r="3.2"/><circle cx="1064.8" cy="300.72" r="3.2"/><circle cx="1069.38" cy="304.91" r="3.2"/><circle cx="1073.96" cy="296.53" r="3.2"/><circle cx="1078.54" cy="292.34" r="3.2"/><circle cx="1083.12" cy="292.34" r="3.2"/><circle cx="1087.71" cy="300.72" r="3.2"/><circle cx="1092.29" cy="300.72" r="3.2"/><circle cx="1096.87" cy="300.72" r="3.2"/><circle cx="1101.45" cy="300.72" r="3.2"/><circle cx="1106.03" cy="304.91" r="3.2"/><circle cx="1110.62" cy="304.91" r="3.2"/><circle cx="1115.2" cy="304.91" r="3.2"/><circle cx="1119.78" cy="304.91" r="3.2"/><circle cx="1124.36" cy="304.91" r="3.2"/><circle cx="1128.94" cy="304.91" r="3.2"/><circle cx="1133.53" cy="309.1" r="3.2"/><circle cx="1138.11" cy="300.72" r="3.2"/><circle cx="1142.69" cy="304.91" r="3.2"/><circle cx="1147.27" cy="309.1" r="3.2"/><circle cx="1151.85" cy="292.34" r="3.2"/><circle cx="1156.44" cy="309.1" r="3.2"/><circle cx="1161.02" cy="296.53" r="3.2"/><circle cx="1165.6" cy="300.72" r="3.2"/><circle cx="1170.18" cy="296.53" r="3.2"/><circle cx="1174.76" cy="309.1" r="3.2"/><circle cx="1179.35" cy="296.53" r="3.2"/><circle cx="1183.93" cy="300.72" r="3.2"/><circle cx="1188.51" cy="300.72" r="3.2"/><circle cx="1193.09" cy="304.91" r="3.2"/><circle cx="1197.67" cy="296.53" r="3.2"/><circle cx="1202.26" cy="300.72" r="3.2"/><circle cx="1206.84" cy="304.91" r="3.2"/><circle cx="1211.42" cy="296.53" r="3.2"/><circle cx="1216" cy="296.53" r="3.2"/><circle cx="1220.58" cy="304.91" r="3.2"/><circle cx="1225.17" cy="309.1" r="3.2"/><circle cx="1229.75" cy="296.53" r="3.2"/><circle cx="1234.33" cy="304.91" r="3.2"/><circle cx="1238.91" cy="292.34" r="3.2"/><circle cx="1243.49" cy="300.72" r="3.2"/><circle cx="1248.08" cy="292.34" r="3.2"/><circle cx="1252.66" cy="300.72" r="3.2"/><circle cx="1257.24" cy="309.1" r="3.2"/><circle cx="1261.82" cy="309.1" r="3.2"/><circle cx="1266.4" cy="292.34" r="3.2"/><circle cx="1270.99" cy="300.72" r="3.2"/><circle cx="1275.57" cy="300.72" r="3.2"/><circle cx="1280.15" cy="292.34" r="3.2"/><circle cx="1284.73" cy="300.72" r="3.2"/><circle cx="1289.31" cy="296.53" r="3.2"/><circle cx="1293.9" cy="300.72" r="3.2"/><circle cx="1298.48" cy="292.34" r="3.2"/><circle cx="1303.06" cy="300.72" r="3.2"/><circle cx="1307.64" cy="304.91" r="3.2"/><circle cx="1312.22" cy="296.53" r="3.2"/><circle cx="1316.81" cy="304.91" r="3.2"/><circle cx="1321.39" cy="309.1" r="3.2"/><circle cx="1325.97" cy="309.1" r="3.2"/><circle cx="1330.55" cy="300.72" r="3.2"/><circle cx="1335.13" cy="304.91" r="3.2"/><circle cx="1339.72" cy="300.72" r="3.2"/><circle cx="1344.3" cy="300.72" r="3.2"/><circle cx="1348.88" cy="300.72" r="3.2"/><circle cx="1353.46" cy="304.91" r="3.2"/><circle cx="1358.04" cy="309.1" r="3.2"/><circle cx="1362.63" cy="288.15" r="3.2"/><circle cx="1367.21" cy="304.91" r="3.2"/><circle cx="1371.79" cy="309.1" r="3.2"/><circle cx="1376.37" cy="296.53" r="3.2"/><circle cx="1380.95" cy="296.53" r="3.2"/><circle cx="1385.54" cy="300.72" r="3.2"/><circle cx="1390.12" cy="300.72" r="3.2"/><circle cx="1394.7" cy="309.1" r="3.2"/><circle cx="1399.28" cy="304.91" r="3.2"/><circle cx="1403.86" cy="296.53" r="3.2"/><circle cx="1408.45" cy="309.1" r="3.2"/><circle cx="1413.03" cy="296.53" r="3.2"/><circle cx="1417.61" cy="296.53" r="3.2"/><circle cx="1422.19" cy="304.91" r="3.2"/><circle cx="1426.77" cy="304.91" r="3.2"/><circle cx="1431.36" cy="292.34" r="3.2"/><circle cx="1435.94" cy="309.1" r="3.2"/><circle cx="1440.52" cy="309.1" r="3.2"/><circle cx="1445.1" cy="309.1" r="3.2"/><circle cx="1449.68" cy="292.34" r="3.2"/><circle cx="1454.27" cy="292.34" r="3.2"/><circle cx="1458.85" cy="292.34" r="3.2"/><circle cx="1463.43" cy="300.72" r="3.2"/><circle cx="1468.01" cy="300.72" r="3.2"/><circle cx="1472.59" cy="304.91" r="3.2"/></g>
<path d="M705.9 141.5 V309.6 M700.8 141.5 H705.9 M700.8 183.4 H705.9 M700.8 225.3 H705.9 M700.8 267.2 H705.9 M700.8 309.1 H705.9" stroke="#8a8a8a" stroke-width="1.1" fill="none"/>
<text x="699.2" y="313.2" text-anchor="end" class="yl">0</text>
<text x="699.2" y="271.3" text-anchor="end" class="yl">10</text>
<text x="699.2" y="229.4" text-anchor="end" class="yl">20</text>
<text x="699.2" y="187.5" text-anchor="end" class="yl">30</text>
<text x="699.2" y="150.1" text-anchor="end" class="yl">40</text>
<text x="707.4" y="319.5" text-anchor="middle" class="xl">03</text>
<text x="785.29" y="319.5" text-anchor="middle" class="xl">20</text>
<text x="863.19" y="319.5" text-anchor="middle" class="xl">13</text>
<text x="941.08" y="319.5" text-anchor="middle" class="xl">06</text>
<text x="1018.98" y="319.5" text-anchor="middle" class="xl">23</text>
<text x="1096.87" y="319.5" text-anchor="middle" class="xl">16</text>
<text x="1174.76" y="319.5" text-anchor="middle" class="xl">09</text>
<text x="1252.66" y="319.5" text-anchor="middle" class="xl">02</text>
<text x="1330.55" y="319.5" text-anchor="middle" class="xl">19</text>
<text x="1408.45" y="319.5" text-anchor="middle" class="xl">12</text>
<text x="747.44" y="332.9" text-anchor="middle" class="dl" textLength="25.7" lengthAdjust="spacingAndGlyphs">01.10.</text>
<text x="857.16" y="332.9" text-anchor="middle" class="dl" textLength="25.7" lengthAdjust="spacingAndGlyphs">02.10.</text>
<text x="966.88" y="332.9" text-anchor="middle" class="dl" textLength="25.7" lengthAdjust="spacingAndGlyphs">03.10.</text>
<text x="1076.6" y="332.9" text-anchor="middle" class="dl" textLength="25.7" lengthAdjust="spacingAndGlyphs">04.10.</text>
<text x="1186.32" y="332.9" text-anchor="middle" class="dl" textLength="25.7" lengthAdjust="spacingAndGlyphs">05.10.</text>
<text x="1296.04" y="332.9" text-anchor="middle" class="dl" textLength="25.7" lengthAdjust="spacingAndGlyphs">06.10.</text>
<text x="1405.76" y="332.9" text-anchor="middle" class="dl" textLength="25.7" lengthAdjust="spacingAndGlyphs">07.10.</text>
<path d="M802.3 322.3 V336 M912.02 322.3 V336 M1021.74 322.3 V336 M1131.46 322.3 V336 M1241.18 322.3 V336 M1350.9 322.3 V336 M1460.62 322.3 V336" stroke="#fd8a25" stroke-width="1" fill="none"/>
</svg>
<div class="legend">
 <div class="it" style="left:867.9px;top:354px;width:11px;height:7.7px;background:#1c2442"></div>
 <div class="it" style="left:882.1px;top:352.1px">Total bookings</div>
 <div class="it" style="left:954.4px;top:352.1px;width:11px;height:12px"><svg width="11" height="8" viewBox="0 0 11 8" style="position:absolute;left:0;top:2px"><path d="M0 4H11" stroke="#fd8a25" stroke-width="1.3"/><circle cx="5.5" cy="4" r="2.1" fill="#f4f4f4" stroke="#fd8a25" stroke-width="1.3"/></svg></div>
 <div class="it" style="left:969.1px;top:352.1px">Tool store bookings</div>
 <div class="it" style="left:1063.7px;top:352.1px;width:11px;height:12px"><svg width="11" height="8" viewBox="0 0 11 8" style="position:absolute;left:0;top:2px"><path d="M0 4H11" stroke="#f2c200" stroke-width="1.3"/><circle cx="5.5" cy="4" r="2.1" fill="#f4f4f4" stroke="#f2c200" stroke-width="1.3"/></svg></div>
 <div class="it" style="left:1077.9px;top:352.1px">Kiosk bookings</div>
 <div class="it" style="left:1152.7px;top:352.1px;width:11px;height:12px"><svg width="11" height="8" viewBox="0 0 11 8" style="position:absolute;left:0;top:2px"><path d="M0 4H11" stroke="#de4a17" stroke-width="1.3"/><circle cx="5.5" cy="4" r="2.1" fill="#f4f4f4" stroke="#de4a17" stroke-width="1.3"/></svg></div>
 <div class="it" style="left:1166.8px;top:352.1px">Accepted handovers</div>
</div>
</body></html>
